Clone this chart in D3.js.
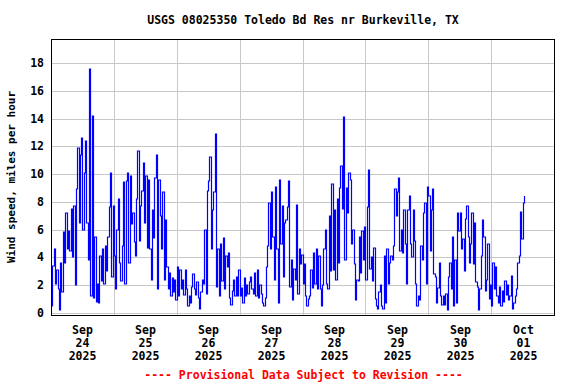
<!DOCTYPE html>
<html><head><meta charset="UTF-8">
<script src="https://cdn.jsdelivr.net/npm/d3@7"></script>
<style>
  body { margin: 0; background: #fff; }
  svg text { font-family: "DejaVu Sans Mono", "Liberation Mono", monospace; font-weight: bold; }
</style>
</head>
<body>
<div id="chart"></div>
<script>

// wind speed, mph, one value every 30 minutes from local midnight
var sep24 = [0.5, 3.4, 4.6, 2.1, 3.1, 1.7, 0.2, 3.6, 1.5, 5.8, 3.6, 7.2, 4.6, 5.9, 4.5, 7.5, 4.0, 7.7, 2.0, 8.9,
             11.9, 6.5, 11.4, 12.6, 6.0, 10.1, 12.4, 6.5, 3.8, 17.6, 1.2, 14.2, 1.1, 5.5, 0.8, 2.1, 0.7, 4.1, 2.3, 4.6,
             2.1, 4.8, 3.0, 5.5, 7.6, 10.1, 2.6, 7.7];
var sep25 = [4.1, 1.7, 6.0, 8.2, 3.6, 2.3, 4.8, 9.4, 2.1, 9.5, 10.1, 3.6, 9.9, 6.4, 7.2, 5.1, 4.1, 8.2, 11.7, 5.2,
             7.7, 8.8, 10.8, 6.5, 9.9, 4.7, 9.6, 4.6, 2.4, 7.4, 5.4, 9.7, 11.4, 1.7, 9.6, 7.0, 4.6, 8.7, 2.4, 6.7,
             3.3, 1.7, 2.9, 1.2, 2.5, 1.5, 2.4, 0.9];
var sep26 = [3.3, 1.2, 3.1, 1.7, 2.4, 1.3, 3.1, 1.7, 0.5, 1.2, 0.7, 1.9, 2.8, 1.7, 1.3, 2.2, 1.1, 0.3, 1.5, 2.4,
             2.1, 6.0, 1.4, 8.8, 9.5, 11.2, 4.6, 7.4, 8.7, 12.9, 1.9, 4.6, 1.2, 5.0, 2.3, 5.4, 1.7, 4.1, 3.3, 4.3,
             1.1, 0.6, 1.6, 2.4, 1.2, 2.6, 1.2, 3.1];
var sep27 = [1.2, 1.8, 0.7, 2.5, 1.2, 2.0, 1.4, 2.2, 2.6, 1.7, 1.4, 2.9, 1.2, 3.1, 1.1, 2.0, 1.4, 0.7, 0.5, 1.1,
             3.3, 4.8, 7.9, 4.6, 8.7, 5.5, 2.4, 9.1, 4.6, 0.7, 9.6, 5.0, 7.7, 2.6, 6.5, 6.7, 7.6, 9.5, 1.9, 3.8,
             0.9, 3.2, 2.4, 7.8, 1.4, 4.6, 3.5, 4.2];
var sep28 = [2.1, 3.5, 1.2, 0.5, 1.0, 1.2, 3.1, 1.8, 4.3, 2.1, 4.6, 1.7, 4.1, 1.7, 0.5, 2.0, 4.6, 6.0, 2.1, 1.7,
             7.0, 3.0, 9.3, 3.1, 7.4, 2.4, 8.2, 3.6, 9.0, 10.6, 7.5, 14.1, 3.8, 9.0, 7.2, 10.1, 9.6, 5.0, 6.0, 3.5,
             0.9, 2.4, 2.3, 5.5, 2.9, 5.9, 3.8, 6.2];
var sep29 = [2.4, 7.6, 10.3, 3.2, 4.0, 2.3, 4.7, 1.0, 0.5, 0.3, 1.5, 2.0, 0.5, 0.3, 4.1, 0.7, 4.6, 2.1, 3.6, 4.1,
             3.8, 4.8, 8.9, 7.0, 8.7, 9.7, 4.5, 6.0, 4.3, 7.4, 5.0, 2.1, 7.4, 8.4, 5.0, 4.0, 7.4, 5.2, 2.1, 0.5,
             1.2, 0.9, 4.8, 3.8, 7.2, 7.9, 2.1, 9.1];
var sep30 = [8.4, 4.5, 7.4, 8.9, 2.8, 2.6, 0.7, 1.8, 3.6, 1.2, 0.6, 1.2, 0.6, 1.4, 0.2, 2.6, 3.6, 1.7, 5.5, 0.5,
             3.8, 0.7, 7.2, 5.9, 7.2, 4.6, 5.3, 3.0, 6.8, 7.7, 5.5, 3.6, 5.0, 7.2, 3.5, 6.5, 2.2, 1.9, 0.2, 1.7,
             4.1, 6.7, 5.5, 1.6, 2.4, 5.0, 1.0, 2.0];
var oct01 = [0.5, 3.6, 1.7, 3.3, 1.2, 0.7, 1.9, 0.5, 1.6, 0.8, 2.3, 1.3, 2.0, 0.9, 1.2, 2.7, 0.3, 0.7, 1.2, 1.7,
             3.6, 4.1, 7.3, 5.3, 7.9, 8.4];

var dayStarts = ["2025-09-24", "2025-09-25", "2025-09-26", "2025-09-27", "2025-09-28", "2025-09-29", "2025-09-30", "2025-10-01"];
var dayValues = [sep24, sep25, sep26, sep27, sep28, sep29, sep30, oct01];
var xTickLabels = ["Sep 24 2025", "Sep 25 2025", "Sep 26 2025", "Sep 27 2025", "Sep 28 2025", "Sep 29 2025", "Sep 30 2025", "Oct 01 2025"];
var yTicks = [0, 2, 4, 6, 8, 10, 12, 14, 16, 18];

var title = "USGS 08025350 Toledo Bd Res nr Burkeville, TX";
var yTitle = "Wind speed, miles per hour";
var footer = "---- Provisional Data Subject to Revision ----";

var W = 576, H = 384,
    mLeft = 51, mRight = 554, mTop = 39, mBottom = 315;

var parse = d3.utcParse("%Y-%m-%d");
var points = [];
dayStarts.forEach(function(d, k) {
    var t0 = parse(d);
    dayValues[k].forEach(function(v, i) {
        points.push({t: d3.utcMinute.offset(t0, i * 30), v: v});
    });
});

var x = d3.scaleUtc()
    .domain([parse("2025-09-24"), parse("2025-10-02")])
    .rangeRound([mLeft, mRight]);
var y = d3.scaleLinear()
    .domain([0, 18])
    .rangeRound([313, 63]);

var svg = d3.select("#chart").append("svg")
    .attr("width", W)
    .attr("height", H);
svg.append("rect").attr("width", W).attr("height", H).attr("fill", "#fff");

// horizontal grid + y labels
var gy = svg.append("g")
    .attr("transform", "translate(" + mLeft + ",0)")
    .call(d3.axisLeft(y).tickValues(yTicks).tickSize(-(mRight - mLeft)).tickPadding(7));
gy.select(".domain").remove();
gy.selectAll(".tick line").attr("stroke", "#c8c8c8").attr("shape-rendering", "crispEdges");
gy.selectAll(".tick text").attr("fill", "#000").style("font-size", "11.5px");

// vertical grid at midnights
var gx = svg.append("g")
    .attr("transform", "translate(0," + mBottom + ")")
    .call(d3.axisBottom(x).tickValues(dayStarts.slice(1).map(parse)).tickSize(-(mBottom - mTop)).tickFormat(""));
gx.select(".domain").remove();
gx.selectAll(".tick line").attr("stroke", "#c8c8c8").attr("shape-rendering", "crispEdges");

// day labels at noon
var noons = dayStarts.map(function(d) { return d3.utcHour.offset(parse(d), 12); });
var gl = svg.append("g")
    .attr("transform", "translate(0," + mBottom + ")")
    .call(d3.axisBottom(x).tickValues(noons).tickSize(0));
gl.select(".domain").remove();
gl.selectAll(".tick text").each(function(d, i) {
    var t = d3.select(this).text(null).attr("dy", null).attr("y", 19)
        .attr("fill", "#000").style("font-size", "11.5px");
    xTickLabels[i].split(" ").forEach(function(s, j) {
        t.append("tspan").attr("x", 0).attr("dy", j ? 13 : 0).text(s);
    });
});

var line = d3.line()
    .curve(d3.curveStepAfter)
    .x(function(d) { return x(d.t) + 0.5; })
    .y(function(d) { return y(d.v); });

svg.append("path")
    .datum(points)
    .attr("d", line)
    .attr("fill", "none")
    .attr("stroke", "#0000ff")
    .attr("stroke-width", 1.2);

svg.append("rect")
    .attr("x", mLeft + 0.5).attr("y", mTop + 0.5)
    .attr("width", mRight - mLeft).attr("height", mBottom - mTop)
    .attr("fill", "none").attr("stroke", "#000")
    .attr("shape-rendering", "crispEdges");

svg.append("text")
    .attr("x", (mLeft + mRight) / 2 + 0.5).attr("y", 24)
    .attr("text-anchor", "middle")
    .style("font-size", "11.5px")
    .text(title);

svg.append("text")
    .attr("transform", "translate(15," + ((mTop + mBottom) / 2) + ") rotate(-90)")
    .attr("text-anchor", "middle")
    .style("font-size", "11px")
    .text(yTitle);

svg.append("text")
    .attr("x", (mLeft + mRight) / 2 + 1).attr("y", 379)
    .attr("text-anchor", "middle")
    .attr("fill", "#ff0000")
    .style("font-size", "11.5px")
    .text(footer);

</script>
</body></html>
